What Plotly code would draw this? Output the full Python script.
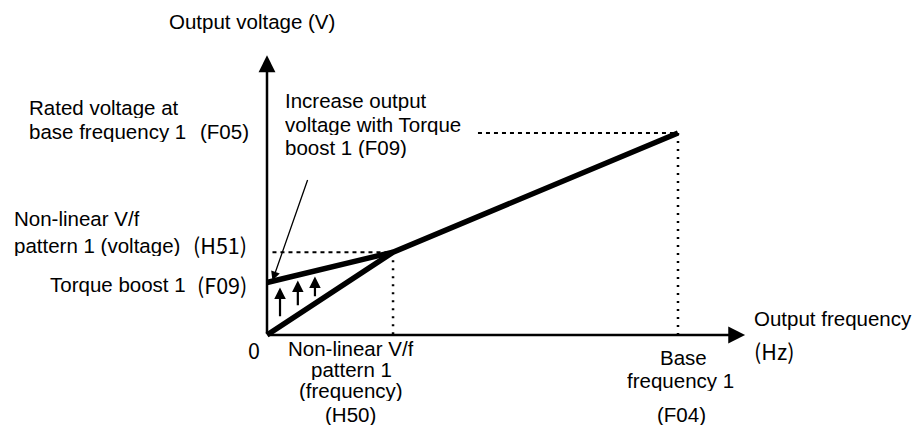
import plotly.graph_objects as go

# Frequency settings (Hz)
base_freq_F04 = 60.0
nonlinear_freq_H50 = 18.4
# Voltage settings (V)
rated_volt_F05 = 200.0
nonlinear_volt_H51 = 82.0
torque_boost_F09 = 52.0

# Axis extents (end of the arrowed axes)
freq_axis_end = 69.8
volt_axis_end = 277.0

# Small arrows showing the boost lifting the curve
boost_arrow_freq = [1.9, 4.5, 7.0]
boost_arrow_from = [17.0, 28.0, 37.0]
boost_arrow_to = [47.0, 54.0, 58.0]

# Callout pointer (tail -> tip)
pointer_tail = (6.0, 155.0)
pointer_tip = (0.8, 54.0)

# Start of the dotted guide to the rated voltage
f05_guide_start = 30.8

W, H = 918, 425
X_RANGE = [-38.98, 95.04]
Y_RANGE = [-89.1, 331.7]

LATIN = "Liberation Sans, Arial, sans-serif"
GOTHIC = "Noto Sans CJK JP, sans-serif"
FS = 20.5
GS = 21.5
BLACK = "#000000"

fig = go.Figure()

# V/f pattern without boost: origin -> (H50, H51) -> (F04, F05)
fig.add_trace(go.Scatter(
    x=[0, nonlinear_freq_H50, base_freq_F04],
    y=[0, nonlinear_volt_H51, rated_volt_F05],
    mode="lines", line=dict(color=BLACK, width=5.5),
    hoverinfo="skip"))

# Boosted start segment: (0, F09) -> (H50, H51)
fig.add_trace(go.Scatter(
    x=[0, nonlinear_freq_H50],
    y=[torque_boost_F09, nonlinear_volt_H51],
    mode="lines", line=dict(color=BLACK, width=5.5),
    hoverinfo="skip"))

# Dotted guides
dash_h = dict(color=BLACK, width=2, dash="4px,4px")
dash_v = dict(color=BLACK, width=2.5, dash="2px,6px")
fig.add_trace(go.Scatter(x=[0.8, nonlinear_freq_H50],
                         y=[nonlinear_volt_H51, nonlinear_volt_H51],
                         mode="lines", line=dash_h, hoverinfo="skip"))
fig.add_trace(go.Scatter(x=[nonlinear_freq_H50, nonlinear_freq_H50],
                         y=[nonlinear_volt_H51, 0],
                         mode="lines", line=dash_v, hoverinfo="skip"))
fig.add_trace(go.Scatter(x=[f05_guide_start, base_freq_F04],
                         y=[rated_volt_F05, rated_volt_F05],
                         mode="lines", line=dash_h, hoverinfo="skip"))
fig.add_trace(go.Scatter(x=[base_freq_F04, base_freq_F04],
                         y=[rated_volt_F05, 0],
                         mode="lines", line=dash_v, hoverinfo="skip"))

ann = []


def arrow(x, y, ax, ay, width, size):
    ann.append(dict(x=x, y=y, ax=ax, ay=ay, xref="x", yref="y",
                    axref="x", ayref="y", text="", showarrow=True,
                    arrowhead=2, arrowwidth=width, arrowsize=size,
                    arrowcolor=BLACK))


# Axes with arrow heads
arrow(freq_axis_end, 0, 0, 0, 2.5, 1.35)
arrow(0, volt_axis_end, 0, 0, 2.5, 1.35)

# Boost arrows
for fx, y0, y1 in zip(boost_arrow_freq, boost_arrow_from, boost_arrow_to):
    arrow(fx, y1, fx, y0, 2.2, 1.05)

# Callout pointer
arrow(pointer_tip[0], pointer_tip[1], pointer_tail[0], pointer_tail[1], 1.3, 1.4)


def label(text, xp, yp, xanchor="left", family=LATIN, size=FS, box=None):
    item = dict(text=text, x=xp / W, y=1 - yp / H, xref="paper",
                yref="paper", xanchor=xanchor, yanchor="middle",
                showarrow=False, font=dict(family=family, size=size,
                                           color=BLACK))
    if box:
        item["height"] = box
        item["valign"] = "middle"
    ann.append(item)


# Axis titles
label("Output voltage (V)", 252, 22, "center")
label("Output frequency", 752, 318, "left")
label("(Hz)", 752, 350, "left", GOTHIC, GS)

# Vertical-axis labels
label("Rated voltage at", 27, 107, box=22)
label("base frequency 1", 27, 131, box=22)
label("(F05)", 251, 131, "right")
label("Non-linear V/f", 12, 218, box=22)
label("pattern 1 (voltage)", 12, 245, box=22)
label("(H51)", 249, 245, "right", GOTHIC, GS)
label("Torque boost 1", 188, 284, "right")
label("(F09)", 249, 284, "right", GOTHIC, GS)

# Callout text
label("Increase output", 283, 100, box=22)
label("voltage with Torque", 283, 124, box=22)
label("boost 1 (F09)", 283, 147, box=22)

# Horizontal-axis labels
label("0", 254, 349, "center", GOTHIC, GS)
label("Non-linear V/f", 351, 348.5, "center", box=21)
label("pattern 1", 351, 369.5, "center", box=21)
label("(frequency)", 351, 390.5, "center", box=21)
label("(H50)", 350, 413.5, "center", box=22)
label("Base", 683, 357, "center", box=22)
label("frequency 1", 680, 380, "center", box=22)
label("(F04)", 681, 413.5, "center", box=22)

fig.update_layout(
    width=W, height=H,
    margin=dict(l=0, r=0, t=0, b=0, pad=0),
    paper_bgcolor="white", plot_bgcolor="white",
    showlegend=False,
    xaxis=dict(range=X_RANGE, visible=False, fixedrange=True),
    yaxis=dict(range=Y_RANGE, visible=False, fixedrange=True),
    annotations=ann,
)

fig.write_html("out.html", config={"displayModeBar": False})
